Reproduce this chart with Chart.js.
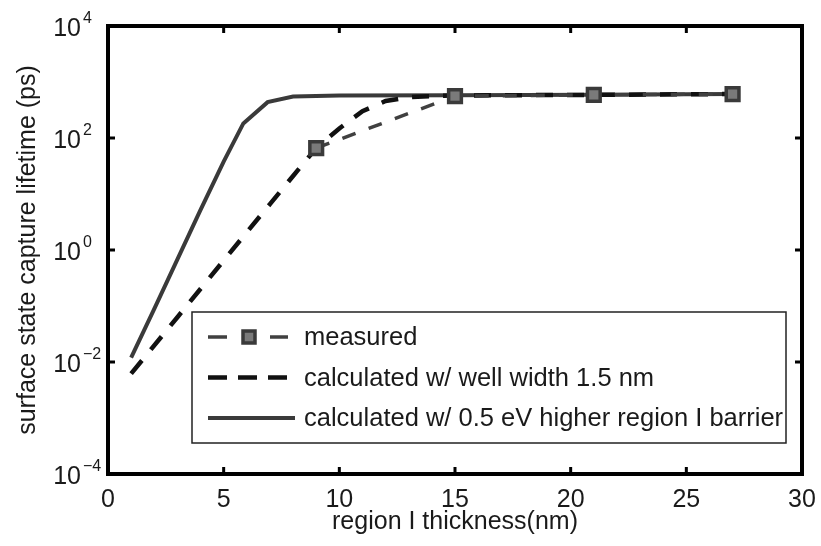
<!DOCTYPE html>
<html>
<head>
<meta charset="utf-8">
<script src="https://cdn.jsdelivr.net/npm/chart.js@4.4.1/dist/chart.umd.min.js"></script>
<style>
  body { margin: 0; background: #fff; }
  #lifetime { display: block; }
</style>
</head>
<body>
<canvas id="lifetime" width="821" height="546"></canvas>
<script>
// region I thickness (nm) against surface state capture lifetime (ps)
var measuredX = [9, 15, 21, 27];
var measuredY = [66, 560, 590, 610];

var wellX = [1, 3, 5, 7, 8, 9, 10, 11, 12, 13, 14, 15, 21, 27];
var wellY = [0.0062, 0.063, 0.65, 6.6, 21, 66, 148, 302, 457, 537, 562, 575, 589, 610];

var barrierX = [1, 2, 3, 4, 5, 5.85, 6.9, 8, 10, 15, 21, 27];
var barrierY = [0.012, 0.089, 0.68, 5.2, 38, 182, 437, 550, 575, 580, 595, 610];

var xTicks = [0, 5, 10, 15, 20, 25, 30];
var yTicks = [1e-4, 1e-2, 1, 1e2, 1e4];

var seriesNames = [
	"measured",
	"calculated w/ well width 1.5 nm",
	"calculated w/ 0.5 eV higher region I barrier"
];

var FONT = "'Liberation Sans', Arial, Helvetica, sans-serif";
var INK = "#1a1a1a";

function points(xs, ys) {
	return xs.map(function(x, i) { return { x: x, y: ys[i] }; });
}

// box, inward tick marks, tick labels and the legend, drawn over the plot
var frame = {
	id: "frame",
	afterDraw: function(chart) {
		var ctx = chart.ctx;
		var a = chart.chartArea;
		var sx = chart.scales.x, sy = chart.scales.y;
		ctx.save();

		ctx.strokeStyle = "#000";
		ctx.lineWidth = 4;
		ctx.setLineDash([]);
		ctx.strokeRect(a.left, a.top, a.right - a.left, a.bottom - a.top);

		ctx.lineWidth = 3;
		xTicks.forEach(function(v) {
			if (v === sx.min || v === sx.max) return;
			var px = sx.getPixelForValue(v);
			ctx.beginPath();
			ctx.moveTo(px, a.bottom); ctx.lineTo(px, a.bottom - 7);
			ctx.moveTo(px, a.top); ctx.lineTo(px, a.top + 7);
			ctx.stroke();
		});
		yTicks.forEach(function(v) {
			if (v === sy.min || v === sy.max) return;
			var py = sy.getPixelForValue(v);
			ctx.beginPath();
			ctx.moveTo(a.left, py); ctx.lineTo(a.left + 7, py);
			ctx.moveTo(a.right, py); ctx.lineTo(a.right - 7, py);
			ctx.stroke();
		});

		ctx.fillStyle = INK;
		ctx.textBaseline = "alphabetic";
		ctx.font = "25px " + FONT;
		ctx.textAlign = "center";
		xTicks.forEach(function(v) {
			ctx.fillText(String(v), sx.getPixelForValue(v), a.bottom + 33);
		});
		yTicks.forEach(function(v) {
			var py = sy.getPixelForValue(v);
			var e = Math.round(Math.log10(v));
			ctx.font = "25px " + FONT;
			ctx.textAlign = "right";
			ctx.fillText("10", 81, py + 10);
			ctx.font = "16px " + FONT;
			ctx.textAlign = "left";
			ctx.fillText(e < 0 ? "\u2212" + (-e) : String(e), 83, py - 3);
		});

		// legend
		var bx = 192, by = 312, bw = 594, bh = 131;
		ctx.fillStyle = "#fff";
		ctx.fillRect(bx, by, bw, bh);
		ctx.strokeStyle = "#222";
		ctx.lineWidth = 1.5;
		ctx.strokeRect(bx, by, bw, bh);

		chart.data.datasets.forEach(function(ds, i) {
			var y = 337 + i * 40.5;
			ctx.strokeStyle = ds.borderColor;
			ctx.lineWidth = ds.borderWidth;
			ctx.beginPath();
			if (i === 0) {
				ctx.setLineDash([]);
				ctx.moveTo(208, y); ctx.lineTo(227, y);
				ctx.moveTo(270, y); ctx.lineTo(288, y);
				ctx.stroke();
				ctx.lineWidth = ds.pointBorderWidth;
				ctx.strokeStyle = ds.pointBorderColor;
				ctx.fillStyle = ds.pointBackgroundColor;
				ctx.fillRect(243, y - 6, 12, 12);
				ctx.strokeRect(243, y - 6, 12, 12);
			} else if (i === 1) {
				ctx.setLineDash([19, 11]);
				ctx.moveTo(208, y); ctx.lineTo(287, y);
				ctx.stroke();
			} else {
				ctx.setLineDash([]);
				ctx.moveTo(208, y); ctx.lineTo(295, y);
				ctx.stroke();
			}
			ctx.setLineDash([]);
			ctx.fillStyle = INK;
			ctx.font = "25.5px " + FONT;
			ctx.textAlign = "left";
			ctx.fillText(ds.label, 304, y + 8);
		});

		ctx.restore();
	}
};

var ctx = document.getElementById("lifetime");

var chart = new Chart(ctx, {
	type: "line",
	data: {
		datasets: [
			{
				label: seriesNames[0],
				data: points(measuredX, measuredY),
				borderColor: "#404040",
				borderWidth: 3.5,
				borderDash: [14, 14],
				pointStyle: "rect",
				pointRadius: 9,
				pointBorderWidth: 3.5,
				pointBorderColor: "#3a3a3a",
				pointBackgroundColor: "#7a7a7a",
				fill: false
			},
			{
				label: seriesNames[1],
				data: points(wellX, wellY),
				borderColor: "#111",
				borderWidth: 4.5,
				borderDash: [17, 14],
				pointRadius: 0,
				fill: false
			},
			{
				label: seriesNames[2],
				data: points(barrierX, barrierY),
				borderColor: "#3a3a3a",
				borderWidth: 4,
				pointRadius: 0,
				fill: false
			}
		]
	},
	options: {
		responsive: false,
		animation: false,
		layout: { padding: { left: 0, right: 19, top: 26, bottom: 0 } },
		elements: { line: { tension: 0 } },
		plugins: {
			legend: { display: false },
			tooltip: { enabled: false }
		},
		scales: {
			x: {
				type: "linear",
				min: 0,
				max: 30,
				grid: { display: false },
				border: { display: false },
				ticks: { display: false },
				title: {
					display: true,
					text: "region I thickness(nm)",
					color: INK,
					font: { family: FONT, size: 25 },
					padding: { top: 0, bottom: 9 }
				},
				afterFit: function(s) { s.height = 72; }
			},
			y: {
				type: "logarithmic",
				min: 1e-4,
				max: 1e4,
				grid: { display: false },
				border: { display: false },
				ticks: { display: false },
				title: {
					display: true,
					text: "surface state capture lifetime (ps)",
					color: INK,
					font: { family: FONT, size: 25 },
					padding: { top: 13, bottom: 0 }
				},
				afterFit: function(s) { s.width = 108; }
			}
		}
	},
	plugins: [frame]
});
</script>
</body>
</html>
